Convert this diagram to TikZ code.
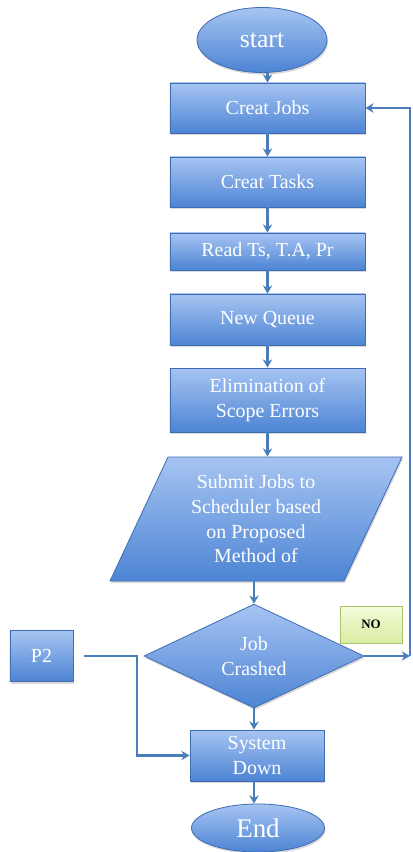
\documentclass[tikz,border=0pt]{standalone}
\usepackage{fontspec}
\setmainfont{Liberation Serif}
\usetikzlibrary{shapes.geometric,arrows.meta,shadows}

\definecolor{boxtop}{HTML}{A6C4F2}
\definecolor{boxbot}{HTML}{4D84D4}
\definecolor{boxline}{HTML}{3F6DB4}
\definecolor{lineblue}{HTML}{4A7EBB}
\definecolor{notop}{HTML}{F4FBDC}
\definecolor{nobot}{HTML}{D9EDA2}
\definecolor{noline}{HTML}{A8C46C}

\tikzset{
  flowbox/.style={rectangle, draw=boxline, line width=0.7pt, top color=boxtop, bottom color=boxbot,
    text=white, font=\fontsize{17}{21}\selectfont, align=center, inner sep=0pt,
    drop shadow={opacity=0.3, shadow xshift=0.8pt, shadow yshift=-1.8pt}},
  termnode/.style={flowbox, ellipse},
  iobox/.style={flowbox, trapezium, trapezium left angle=64, trapezium right angle=116, trapezium stretches=true},
  decide/.style={flowbox, diamond},
  notebox/.style={rectangle, draw=noline, line width=0.7pt, top color=notop, bottom color=nobot,
    font=\bfseries\fontsize{11}{13}\selectfont, inner sep=0pt},
  arr/.style={draw=lineblue, line width=2.4pt, -{Stealth[length=7pt,width=8pt]}},
  wire/.style={draw=lineblue, line width=2.4pt}
}

\begin{document}
\begin{tikzpicture}[x=0.03cm, y=-0.03cm]
		%%%%% START %%%%%
		\useasboundingbox (0,0) rectangle (412,852);
		
		\node[termnode, minimum width=3.9cm, minimum height=1.95cm, font=\fontsize{22}{24}\selectfont] (start) at (262, 40) {start};
		
		\node[flowbox, minimum width=5.85cm, minimum height=1.5cm] (jobs) at (267.5, 108) {Creat Jobs};
		\node[flowbox, minimum width=5.85cm, minimum height=1.5cm] (tasks) at (267.5, 182) {Creat Tasks};
		\node[flowbox, minimum width=5.85cm, minimum height=1.11cm] (read) at (267.5, 251.5) {Read Ts, T.A, Pr};
		\node[flowbox, minimum width=5.85cm, minimum height=1.53cm] (queue) at (267.5, 319.5) {New Queue};
		\node[flowbox, minimum width=5.85cm, minimum height=1.92cm] (elim) at (267.5, 400) {Elimination of\\Scope Errors};
		
		\node[iobox, minimum width=8.76cm, minimum height=3.72cm] (submit) at (256, 519) {Submit Jobs to\\Scheduler based\\on Proposed\\Method of};
		
		\node[decide, minimum width=6.6cm, minimum height=2.94cm] (crash) at (254, 656) {Job\\Crashed};
		\node[notebox, minimum width=1.86cm, minimum height=1.11cm] (no) at (371, 624.5) {NO};
		\node[flowbox, minimum width=1.89cm, minimum height=1.53cm] (p2) at (41.5, 656) {P2};
		
		\node[flowbox, minimum width=4.02cm, minimum height=1.53cm] (down) at (257, 755.5) {System\\Down};
		\node[termnode, minimum width=3.99cm, minimum height=1.44cm, font=\fontsize{23}{24}\selectfont] (end) at (258, 828) {End};
		
		% main column
		\draw[arr] (start.south -| jobs.north) -- (jobs.north);
		\draw[arr] (jobs) -- (tasks);
		\draw[arr] (tasks) -- (read);
		\draw[arr] (read) -- (queue);
		\draw[arr] (queue) -- (elim);
		\draw[arr] (elim.south) -- (elim.south |- submit.north);
		\draw[arr] (crash.north |- submit.south) -- (crash.north);
		\draw[arr] (crash.south) -- (crash.south |- down.north);
		\draw[arr] (crash.south |- down.south) -- (crash.south |- end.north);
		
		% loop back
		\coordinate (loopbot) at (410, 656);
		\coordinate (looptop) at (410, 108);
		\draw[arr] (crash.east) -- (loopbot);
		\draw[arr] (loopbot) -- (looptop) -- (jobs.east);
		
		% P2 feed
		\coordinate (pbend) at (137, 656);
		\draw[arr] ([xshift=0.33cm]p2.east) -- (pbend) |- (down.west);
		
		%%%%% END %%%%%
	\end{tikzpicture}
\end{document}
